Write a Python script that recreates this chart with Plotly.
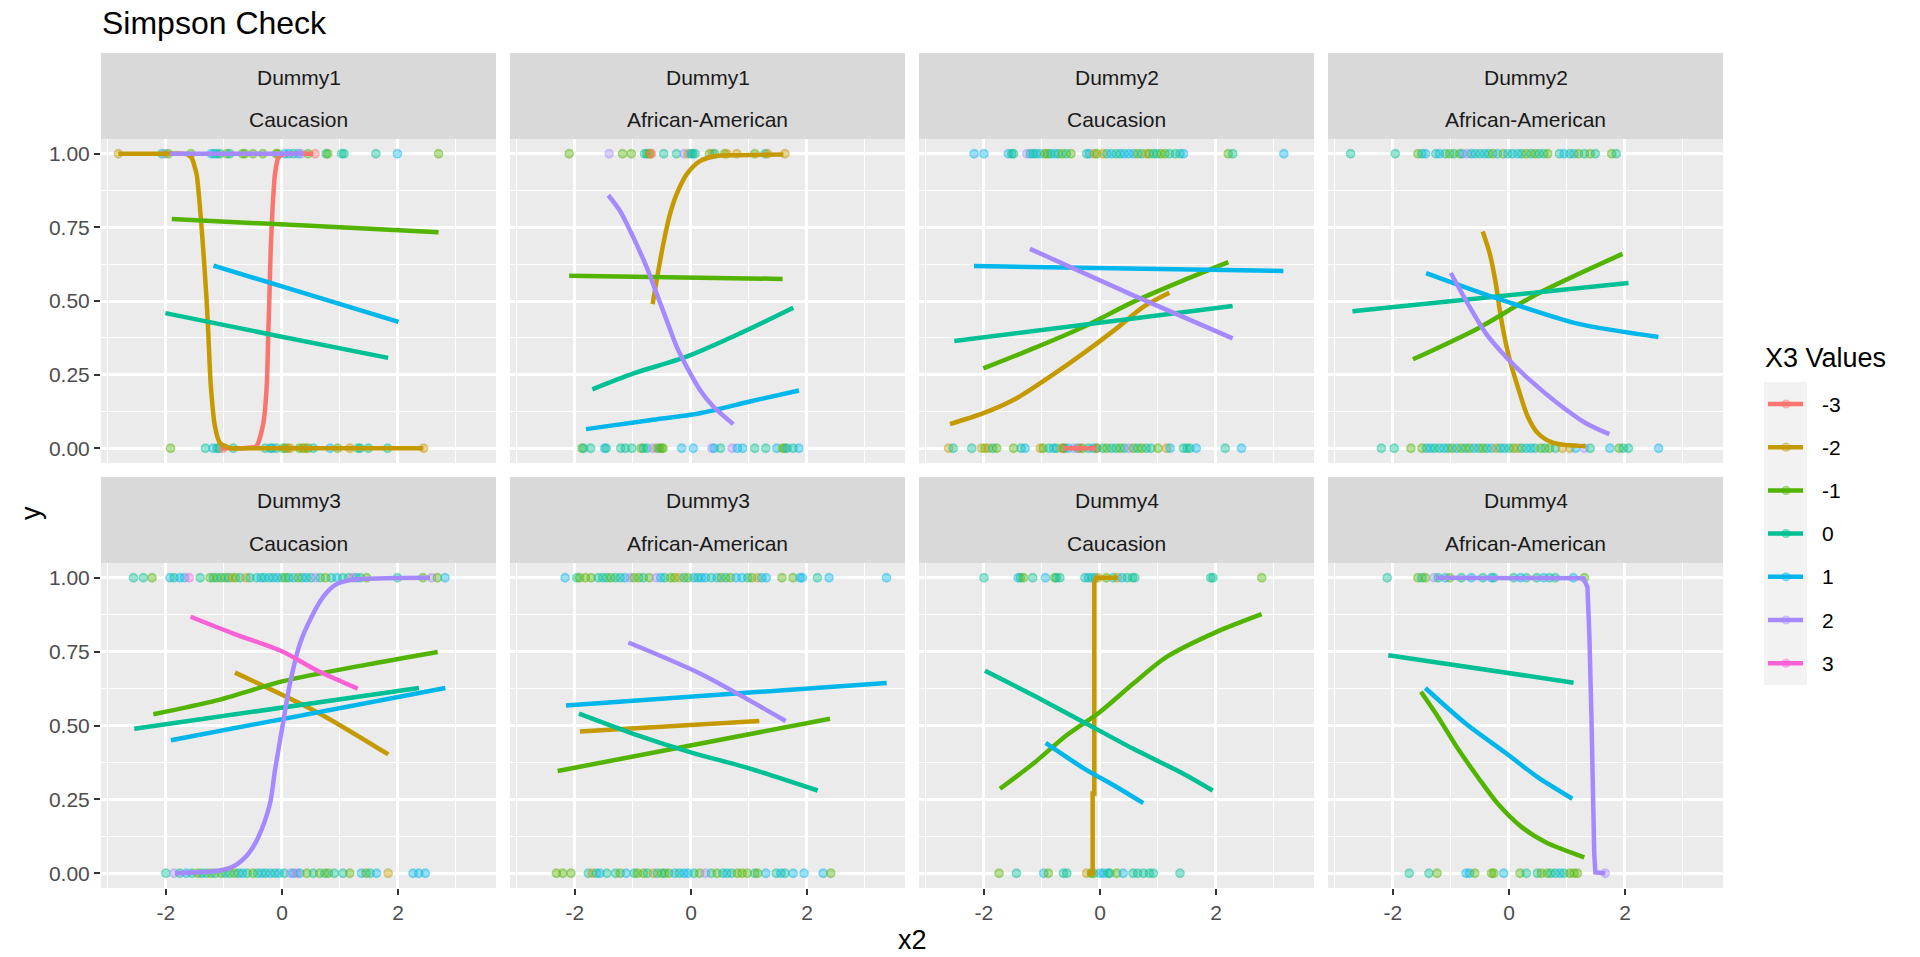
import plotly.graph_objects as go

# ---------------- data ----------------
TITLE = "Simpson Check"
X_LABEL = "x2"
Y_LABEL = "y"
LEGEND_TITLE = "X3 Values"
X3_LEVELS = [-3, -2, -1, 0, 1, 2, 3]
X3_COLORS = ["#F8766D", "#C49A00", "#53B400", "#00C094", "#00B6EB", "#A58AFF", "#FB61D7"]
STRIP_TOP = ["Dummy1", "Dummy1", "Dummy2", "Dummy2", "Dummy3", "Dummy3", "Dummy4", "Dummy4"]
STRIP_BOTTOM = ["Caucasion", "African-American"] * 4
X_TICKS = [-2, 0, 2]
X_MINOR = [-3, -1, 1, 3]
Y_TICKS = [0, 0.25, 0.5, 0.75, 1]
Y_TICK_LABELS = ["0.00", "0.25", "0.50", "0.75", "1.00"]
Y_MINOR = [0.125, 0.375, 0.625, 0.875]

# observed points (x2, X3 group) at y = 1 and y = 0
P1_Y1 = [(-2.82,-2),(-2.07,0),(-2.02,2),(-1.96,-1),(-1.57,-1),(-1.22,1),(-1.17,1),(-1.12,0),(-1.07,0),(-0.95,-1),(-0.90,0),(-0.68,-1),(-0.64,-1),(-0.50,-1),(-0.33,-1),(-0.10,-1),(-0.07,-1),(0.05,1),(0.12,1),(0.20,0),(0.28,1),(0.33,2),(0.45,-1),(0.57,-3),(0.76,0),(0.79,-1),(1.03,0),(1.07,0),(1.62,0),(1.99,1),(2.70,-1)]
P1_Y0 = [(-1.92,-1),(-1.32,0),(-1.19,1),(-1.12,0),(-1.08,0),(-1.02,-3),(-0.84,0),(-0.29,0),(-0.20,0),(-0.17,1),(-0.10,0),(0.02,-1),(0.06,0),(0.10,-2),(0.14,-2),(0.30,-1),(0.36,-1),(0.40,-2),(0.45,-1),(0.54,0),(0.83,1),(0.96,-1),(1.17,-2),(1.31,0),(1.35,0),(1.49,0),(1.82,0),(2.44,-2)]
P2_Y1 = [(-2.10,-1),(-1.41,2),(-1.18,-1),(-1.03,-1),(-0.80,0),(-0.76,0),(-0.72,-1),(-0.70,-2),(-0.68,-3),(-0.47,0),(-0.25,0),(-0.12,2),(-0.05,-2),(0.0,1),(0.03,0),(0.07,0),(0.32,-1),(0.37,-2),(0.41,0),(0.58,-1),(0.62,-2),(0.79,-2),(1.10,-1),(1.28,0),(1.32,-2),(1.62,-2)]
P2_Y0 = [(-1.88,-1),(-1.85,0),(-1.73,0),(-1.49,1),(-1.46,0),(-1.21,0),(-1.13,0),(-1.02,0),(-0.86,-1),(-0.82,0),(-0.76,0),(-0.66,2),(-0.59,-2),(-0.55,0),(-0.51,-1),(-0.48,-1),(-0.16,1),(0.04,1),(0.36,2),(0.40,1),(0.51,0),(0.71,2),(0.80,1),(0.89,1),(1.10,0),(1.29,0),(1.48,1),(1.58,-1),(1.62,-1),(1.66,1),(1.76,0),(1.86,1)]
P3_Y1 = [(-2.17,1),(-2.0,1),(-1.58,1),(-1.52,0),(-1.49,0),(-1.26,2),(-1.20,0),(-1.15,1),(-1.10,0),(-1.03,1),(-0.95,-1),(-0.90,-1),(-0.85,0),(-0.78,1),(-0.72,0),(-0.65,-1),(-0.58,0),(-0.50,-1),(-0.23,0),(-0.18,1),(-0.10,-2),(-0.05,-1),(0.05,-2),(0.12,0),(0.20,1),(0.28,0),(0.35,0),(0.42,1),(0.50,1),(0.58,1),(0.65,-1),(0.72,0),(0.80,-2),(0.85,-1),(0.92,0),(0.98,0),(1.05,-1),(1.12,-1),(1.20,0),(1.30,0),(1.38,0),(1.44,1),(2.21,-1),(2.29,0),(3.17,1)]
P3_Y0 = [(-2.61,-2),(-2.53,0),(-2.21,0),(-2.04,-2),(-1.98,-1),(-1.92,-2),(-1.85,0),(-1.78,-1),(-1.49,-1),(-1.36,0),(-1.29,1),(-1.03,-2),(-0.98,-1),(-0.88,0),(-0.80,1),(-0.75,0),(-0.66,-2),(-0.62,-3),(-0.62,-1),(-0.55,1),(-0.45,2),(-0.38,0),(-0.35,-3),(-0.30,-1),(-0.20,0),(-0.12,1),(-0.07,-3),(-0.05,-1),(0.05,0),(0.12,-1),(0.20,0),(0.28,0),(0.35,-1),(0.42,0),(0.50,2),(0.58,-1),(0.65,0),(0.72,-1),(0.80,0),(0.88,0),(1.0,-1),(1.15,-2),(1.21,1),(1.44,0),(1.50,0),(1.55,0),(1.66,1),(2.16,0),(2.44,1)]
P4_Y1 = [(-2.73,0),(-1.96,0),(-1.57,-1),(-1.50,0),(-1.44,1),(-1.26,0),(-1.20,1),(-1.10,0),(-1.02,-1),(-0.95,0),(-0.85,-1),(-0.80,1),(-0.72,2),(-0.65,0),(-0.58,1),(-0.50,0),(-0.42,1),(-0.35,0),(-0.28,-1),(-0.20,1),(-0.10,-1),(-0.02,1),(0.06,0),(0.15,1),(0.22,0),(0.30,-1),(0.38,0),(0.45,-1),(0.52,0),(0.60,0),(0.67,-1),(0.87,0),(0.95,1),(1.05,0),(1.12,1),(1.20,-1),(1.30,0),(1.40,-1),(1.49,0),(1.77,-1),(1.85,0)]
P4_Y0 = [(-2.20,0),(-1.98,0),(-1.69,-1),(-1.50,-1),(-1.42,0),(-1.35,1),(-1.28,0),(-1.20,0),(-1.12,1),(-1.05,0),(-0.98,-1),(-0.90,1),(-0.82,-1),(-0.75,0),(-0.68,-1),(-0.60,1),(-0.52,0),(-0.45,-1),(-0.38,0),(-0.30,1),(-0.22,-2),(-0.15,0),(-0.08,1),(0.0,0),(0.08,-1),(0.15,-2),(0.22,0),(0.30,0),(0.38,1),(0.45,0),(0.55,-1),(0.62,0),(0.70,-1),(0.80,0),(0.92,-2),(1.05,-2),(1.15,1),(1.30,2),(1.40,0),(1.74,1),(1.90,-1),(1.97,0),(2.06,0),(2.58,1)]
P5_Y1 = [(-2.56,0),(-2.39,0),(-2.24,-1),(-1.93,1),(-1.86,0),(-1.76,1),(-1.68,1),(-1.60,3),(-1.41,0),(-1.24,-1),(-1.18,0),(-1.12,-1),(-1.05,0),(-0.98,-1),(-0.92,0),(-0.86,-2),(-0.80,-1),(-0.72,0),(-0.62,-2),(-0.55,0),(-0.44,0),(-0.36,1),(-0.30,0),(-0.22,1),(-0.15,0),(-0.08,1),(0.0,0),(0.06,-1),(0.12,0),(0.20,1),(0.28,-1),(0.35,0),(0.42,1),(0.50,0),(0.58,2),(0.66,0),(0.75,-1),(0.85,0),(0.95,1),(1.05,0),(1.15,0),(1.22,3),(1.28,1),(1.35,0),(1.46,-1),(1.99,0),(2.43,-1),(2.58,2),(2.68,-1),(2.81,1)]
P5_Y0 = [(-2.0,0),(-1.86,2),(-1.76,0),(-1.65,1),(-1.55,0),(-1.45,-1),(-1.38,0),(-1.30,0),(-1.22,-1),(-1.15,0),(-1.05,-1),(-0.98,0),(-0.90,0),(-0.82,-1),(-0.75,0),(-0.68,1),(-0.60,0),(-0.50,-1),(-0.42,0),(-0.35,1),(-0.28,0),(-0.20,1),(-0.12,0),(-0.05,1),(0.04,0),(0.15,2),(0.20,1),(0.26,3),(0.31,1),(0.43,-1),(0.54,0),(0.65,-1),(0.74,0),(0.80,-1),(0.90,0),(1.05,0),(1.17,-1),(1.37,1),(1.45,-1),(1.52,0),(1.63,1),(1.83,-2),(2.26,1),(2.36,1),(2.47,1)]
P6_Y1 = [(-2.17,1),(-1.97,0),(-1.92,-1),(-1.82,-1),(-1.72,-1),(-1.60,0),(-1.52,0),(-1.45,0),(-1.38,-1),(-1.30,0),(-1.22,0),(-1.14,1),(-1.05,2),(-0.98,-1),(-0.90,-1),(-0.82,0),(-0.72,-1),(-0.60,2),(-0.52,1),(-0.45,0),(-0.35,-1),(-0.28,-1),(-0.20,-2),(-0.12,0),(-0.05,-1),(0.05,1),(0.12,0),(0.18,1),(0.25,1),(0.35,0),(0.45,1),(0.52,-1),(0.60,0),(0.68,-1),(0.78,1),(0.88,1),(0.98,0),(1.05,-1),(1.15,-2),(1.22,1),(1.30,1),(1.57,-1),(1.76,-1),(1.88,1),(1.92,1),(2.18,0),(2.38,1),(3.37,1)]
P6_Y0 = [(-2.32,-1),(-2.21,-1),(-2.07,-1),(-1.77,0),(-1.70,-2),(-1.63,0),(-1.57,1),(-1.45,0),(-1.30,0),(-1.22,-1),(-1.12,1),(-0.98,0),(-0.92,-1),(-0.82,-1),(-0.75,0),(-0.65,-2),(-0.58,0),(-0.50,-1),(-0.45,0),(-0.38,-1),(-0.28,1),(-0.20,0),(-0.12,1),(-0.05,1),(0.05,0),(0.15,-1),(0.25,2),(0.35,0),(0.45,-1),(0.55,0),(0.62,1),(0.70,0),(0.80,-1),(0.88,-1),(0.97,-1),(1.10,0),(1.15,-1),(1.29,1),(1.47,0),(1.55,1),(1.62,0),(1.76,1),(1.95,1),(2.28,1),(2.41,-1)]
P7_Y1 = [(-2.0,0),(-1.41,1),(-1.37,0),(-1.32,-1),(-1.16,0),(-0.94,1),(-0.78,-1),(-0.75,0),(-0.69,0),(-0.26,0),(-0.20,1),(-0.14,0),(-0.08,1),(-0.03,-2),(0.11,-1),(0.23,0),(0.30,-2),(0.38,1),(0.47,0),(0.56,0),(0.60,0),(1.91,0),(1.95,0),(2.79,-1)]
P7_Y0 = [(-1.74,-1),(-1.44,0),(-0.97,1),(-0.89,-1),(-0.63,0),(-0.57,0),(-0.23,-2),(-0.15,-1),(-0.11,-1),(0.0,1),(0.06,1),(0.14,0),(0.17,0),(0.29,-1),(0.40,1),(0.57,0),(0.65,0),(0.75,0),(0.85,0),(0.92,0),(1.38,0)]
P8_Y1 = [(-2.10,0),(-1.57,-1),(-1.50,0),(-1.44,-1),(-1.29,2),(-1.22,0),(-1.10,1),(-1.02,-1),(-0.82,0),(-0.65,1),(-0.45,0),(-0.30,1),(-0.26,0),(0.08,0),(0.20,1),(0.30,0),(0.48,0),(0.60,1),(0.70,0),(0.80,0),(1.11,1),(1.30,-1)]
P8_Y0 = [(-1.72,0),(-1.38,0),(-1.24,-1),(-0.74,1),(-0.68,1),(-0.59,-1),(-0.30,-1),(-0.26,-1),(-0.09,1),(0.19,-1),(0.30,0),(0.49,0),(0.56,-1),(0.66,-1),(0.72,0),(0.80,0),(0.88,1),(0.95,0),(1.05,-1),(1.12,-1),(1.18,-1),(1.66,2)]

# fitted logistic curves: group -> (x2 values, fitted y)
P1_FIT = {
    -3: ([-1.05,-0.70,-0.44,-0.32,-0.26,-0.236,-0.218,-0.195,-0.161,-0.121,-0.063,0.023,0.30,0.54],
         [0.0,0.0,0.007,0.086,0.221,0.39,0.502,0.671,0.818,0.930,0.986,0.998,1.0,1.0]),
    -2: ([-2.82,-2.20,-1.644,-1.557,-1.471,-1.414,-1.356,-1.299,-1.27,-1.23,-1.155,-1.069,-0.897,-0.40,0.80,2.437],
         [1.0,1.0,0.999,0.986,0.93,0.818,0.671,0.502,0.39,0.221,0.074,0.018,0.001,0.0,0.0,0.0]),
    -1: ([-1.90,0.40,2.70], [0.778,0.756,0.733]),
    0: ([-2.01,-0.09,1.83], [0.459,0.382,0.307]),
    1: ([-1.18,0.41,2.01], [0.620,0.525,0.429]),
    2: ([-1.93,0.37], [1.0,1.0]),
}
P2_FIT = {
    -2: ([-0.661,-0.592,-0.477,-0.362,-0.247,-0.075,0.155,0.443,0.73,1.592],
         [0.489,0.570,0.694,0.795,0.863,0.930,0.975,0.992,0.995,0.997]),
    -1: ([-2.10,1.58], [0.586,0.575]),
    0: ([-1.70,-0.99,-0.075,0.845,1.764], [0.200,0.254,0.311,0.390,0.477]),
    1: ([-1.81,-0.707,0.155,1.017,1.862], [0.065,0.095,0.119,0.159,0.196]),
    2: ([-1.425,-1.224,-0.994,-0.764,-0.592,-0.42,-0.247,-0.075,0.155,0.385,0.73],
        [0.859,0.806,0.716,0.615,0.525,0.435,0.345,0.277,0.198,0.142,0.082]),
}
P3_FIT = {
    -3: ([-0.62,-0.07], [0.0,0.0]),
    -2: ([-2.586,-2.011,-1.437,-0.862,-0.287,0.287,0.747,1.195], [0.082,0.119,0.170,0.243,0.322,0.407,0.480,0.528]),
    -1: ([-2.011,-1.149,-0.287,0.575,1.437,2.213], [0.271,0.339,0.412,0.497,0.570,0.632]),
    0: ([-2.511,2.287], [0.364,0.483]),
    1: ([-2.172,3.161], [0.619,0.602]),
    2: ([-1.207,0.575,2.287], [0.677,0.519,0.373]),
}
P4_FIT = {
    -2: ([-0.453,-0.33,-0.227,-0.158,-0.089,0.014,0.151,0.323,0.495,0.769,1.319],
         [0.736,0.660,0.559,0.468,0.390,0.300,0.209,0.108,0.052,0.018,0.007]),
    -1: ([-1.655,-0.536,0.495,1.957], [0.302,0.407,0.525,0.660]),
    0: ([-2.699,2.06], [0.465,0.561]),
    1: ([-1.429,-0.192,1.181,2.576], [0.595,0.508,0.423,0.378]),
    2: ([-1.003,-0.742,-0.398,-0.055,0.357,0.838,1.319,1.731], [0.595,0.502,0.390,0.311,0.232,0.153,0.086,0.048]),
}
P5_FIT = {
    -2: ([-0.81,0.598,1.833], [0.679,0.546,0.402]),
    -1: ([-2.218,-1.126,0.023,1.46,2.684], [0.538,0.585,0.650,0.706,0.749]),
    0: ([-2.546,2.362], [0.489,0.627]),
    1: ([-1.914,2.816], [0.450,0.627]),
    2: ([-1.845,-1.069,-0.81,-0.58,-0.408,-0.207,-0.121,0.011,0.138,0.31,0.511,0.713,0.914,1.172,2.552],
        [0.0,0.009,0.026,0.066,0.122,0.235,0.348,0.5,0.642,0.777,0.868,0.936,0.975,0.992,1.0]),
    3: ([-1.575,-0.839,0.023,0.598,1.305], [0.868,0.811,0.749,0.687,0.625]),
}
P6_FIT = {
    -2: ([-1.914,1.178], [0.480,0.515]),
    -1: ([-2.299,2.397], [0.346,0.523]),
    0: ([-1.931,-0.994,-0.017,1.017,2.184], [0.540,0.472,0.410,0.354,0.280]),
    1: ([-2.155,3.374], [0.568,0.644]),
    2: ([-1.08,0.155,1.632], [0.781,0.676,0.515]),
}
P7_FIT = {
    -2: ([-0.21,-0.126,-0.126,-0.098,-0.098,-0.07,0.30], [0.0,0.0,0.27,0.27,0.985,1.0,1.0]),
    -1: ([-1.724,-1.149,-0.575,0.0,0.575,1.149,2.011,2.787], [0.286,0.371,0.467,0.546,0.642,0.732,0.817,0.877]),
    0: ([-1.983,-1.149,-0.287,0.575,1.437,1.943], [0.685,0.602,0.512,0.421,0.337,0.280]),
    1: ([-0.937,-0.287,0.287,0.747], [0.441,0.356,0.292,0.237]),
}
P8_FIT = {
    -1: ([-1.518,-1.223,-0.879,-0.536,-0.192,0.22,0.632,1.298], [0.614,0.529,0.421,0.325,0.235,0.156,0.105,0.054]),
    0: ([-2.081,1.113], [0.738,0.645]),
    1: ([-1.442,-0.742,-0.055,0.495,1.092], [0.627,0.506,0.407,0.325,0.252]),
    2: ([-1.257,1.284,1.353,1.387,1.422,1.442,1.47,1.49,1.662], [1.0,0.998,0.969,0.8,0.529,0.235,0.066,0.003,0.0]),
}

PANEL_Y1 = [P1_Y1, P2_Y1, P3_Y1, P4_Y1, P5_Y1, P6_Y1, P7_Y1, P8_Y1]
PANEL_Y0 = [P1_Y0, P2_Y0, P3_Y0, P4_Y0, P5_Y0, P6_Y0, P7_Y0, P8_Y0]
PANEL_FIT = [P1_FIT, P2_FIT, P3_FIT, P4_FIT, P5_FIT, P6_FIT, P7_FIT, P8_FIT]
# fits that are practically step functions (drawn without smoothing)
STEP_FITS = {(6, -2), (7, 2)}
# very steep sigmoids: lighter smoothing
STEEP_FITS = {(0, -3), (0, -2)}

# ---------------- layout geometry (pixels) ----------------
W, H = 1920, 957
COL_PX = [(101, 496), (510, 905), (919, 1314), (1328, 1723)]
ROW_PX = [(139, 463), (563, 888)]
STRIP_PX = [(53, 139), (477, 563)]
X_RANGE = [-3.12, 3.69]
Y_RANGE = [-0.05, 1.05]
FONT = "Liberation Sans, Arial, sans-serif"


def px(x):
    return x / W


def py(y):
    return 1 - y / H


def hex_rgba(h, a):
    h = h.lstrip("#")
    r, g, b = int(h[0:2], 16), int(h[2:4], 16), int(h[4:6], 16)
    return f"rgba({r},{g},{b},{a})"


COLOR_OF = dict(zip(X3_LEVELS, X3_COLORS))

fig = go.Figure()
shapes = []
annotations = []

for i in range(8):
    row, col = divmod(i, 4)
    sfx = "" if i == 0 else str(i + 1)
    xa, ya = "x" + sfx, "y" + sfx

    # points first
    xs = [p[0] for p in PANEL_Y1[i]] + [p[0] for p in PANEL_Y0[i]]
    ys = [1] * len(PANEL_Y1[i]) + [0] * len(PANEL_Y0[i])
    gs = [p[1] for p in PANEL_Y1[i]] + [p[1] for p in PANEL_Y0[i]]
    cols = [hex_rgba(COLOR_OF[g], 0.4) for g in gs]
    fig.add_trace(go.Scatter(
        x=xs, y=ys, mode="markers", xaxis=xa, yaxis=ya, showlegend=False,
        marker=dict(size=8.5, color=cols, line=dict(color=cols, width=1.3)),
        hoverinfo="x+y",
    ))
    # fitted curves
    for g in X3_LEVELS:
        if g in PANEL_FIT[i]:
            cx, cy = PANEL_FIT[i][g]
            if (i, g) in STEP_FITS:
                shape, smooth = "linear", 0
            elif (i, g) in STEEP_FITS:
                shape, smooth = "spline", 0.5
            else:
                shape, smooth = "spline", 0.8
            fig.add_trace(go.Scatter(
                x=cx, y=cy, mode="lines", xaxis=xa, yaxis=ya, showlegend=False,
                line=dict(color=COLOR_OF[g], width=4.5, shape=shape, smoothing=smooth),
                name=str(g),
            ))

    x0, x1 = COL_PX[col]
    y0, y1 = ROW_PX[row]
    common = dict(showline=False, zeroline=False, gridcolor="white", gridwidth=2.6,
                  tickfont=dict(size=21, color="#4D4D4D", family=FONT),
                  tickcolor="#333333", tickwidth=2, ticklen=6)
    fig.layout["xaxis" + sfx] = dict(
        domain=[px(x0), px(x1)], range=X_RANGE, anchor=ya,
        tickmode="array", tickvals=X_TICKS, ticktext=[str(t) for t in X_TICKS],
        showticklabels=(row == 1), ticks="outside" if row == 1 else "",
        minor=dict(tickmode="array", tickvals=X_MINOR, showgrid=True, gridcolor="white", gridwidth=1.3, ticks=""),
        **common)
    fig.layout["yaxis" + sfx] = dict(
        domain=[py(y1), py(y0)], range=Y_RANGE, anchor=xa,
        tickmode="array", tickvals=Y_TICKS, ticktext=Y_TICK_LABELS,
        showticklabels=(col == 0), ticks="outside" if col == 0 else "",
        minor=dict(tickmode="array", tickvals=Y_MINOR, showgrid=True, gridcolor="white", gridwidth=1.3, ticks=""),
        **common)

    # strip
    s0, s1 = STRIP_PX[row]
    shapes.append(dict(type="rect", xref="paper", yref="paper", x0=px(x0), x1=px(x1),
                       y0=py(s1), y1=py(s0), fillcolor="#D9D9D9", line=dict(width=0), layer="below"))
    cx = px((x0 + x1) / 2)
    annotations.append(dict(text=STRIP_TOP[i], x=cx, y=py(s0 + 24), xref="paper", yref="paper",
                            showarrow=False, xanchor="center", yanchor="middle",
                            font=dict(size=21, color="#1A1A1A", family=FONT)))
    annotations.append(dict(text=STRIP_BOTTOM[i], x=cx, y=py(s0 + 66), xref="paper", yref="paper",
                            showarrow=False, xanchor="center", yanchor="middle",
                            font=dict(size=21, color="#1A1A1A", family=FONT)))

# titles
annotations.append(dict(text=TITLE, x=px(100), y=py(23), xref="paper", yref="paper", showarrow=False,
                        xanchor="left", yanchor="middle", font=dict(size=32, color="black", family=FONT)))
annotations.append(dict(text=X_LABEL, x=px(912), y=py(940), xref="paper", yref="paper", showarrow=False,
                        xanchor="center", yanchor="middle", font=dict(size=27, color="black", family=FONT)))
annotations.append(dict(text=Y_LABEL, x=px(31), y=py(513), xref="paper", yref="paper", showarrow=False,
                        xanchor="center", yanchor="middle", textangle=-90,
                        font=dict(size=27, color="black", family=FONT)))

# legend (drawn by hand, ggplot style)
annotations.append(dict(text=LEGEND_TITLE, x=px(1763), y=py(358), xref="paper", yref="paper", showarrow=False,
                        xanchor="left", yanchor="middle", font=dict(size=27, color="black", family=FONT)))
shapes.append(dict(type="rect", xref="paper", yref="paper", x0=px(1764), x1=px(1807),
                   y0=py(685), y1=py(382), fillcolor="#F2F2F2", line=dict(width=0)))
for k, (lvl, colr) in enumerate(zip(X3_LEVELS, X3_COLORS)):
    yc = 404 + 43.2 * k
    shapes.append(dict(type="line", xref="paper", yref="paper", x0=px(1768), x1=px(1803),
                       y0=py(yc), y1=py(yc), line=dict(color=colr, width=4.5)))
    shapes.append(dict(type="circle", xref="paper", yref="paper", x0=px(1782), x1=px(1790),
                       y0=py(yc + 4), y1=py(yc - 4), fillcolor=hex_rgba(colr, 0.4),
                       line=dict(color=hex_rgba(colr, 0.4), width=1.2)))
    annotations.append(dict(text=str(lvl), x=px(1820), y=py(yc), xref="paper", yref="paper", showarrow=False,
                            xanchor="left", yanchor="middle", font=dict(size=21, color="black", family=FONT)))

fig.update_layout(
    width=W, height=H, margin=dict(l=0, r=0, t=0, b=0),
    paper_bgcolor="white", plot_bgcolor="#EBEBEB", showlegend=False,
    font=dict(family=FONT), shapes=shapes, annotations=annotations,
)

fig.write_html("out.html", config={"displayModeBar": False},
               post_script="document.body.style.margin='0';document.body.style.overflow='hidden';")
